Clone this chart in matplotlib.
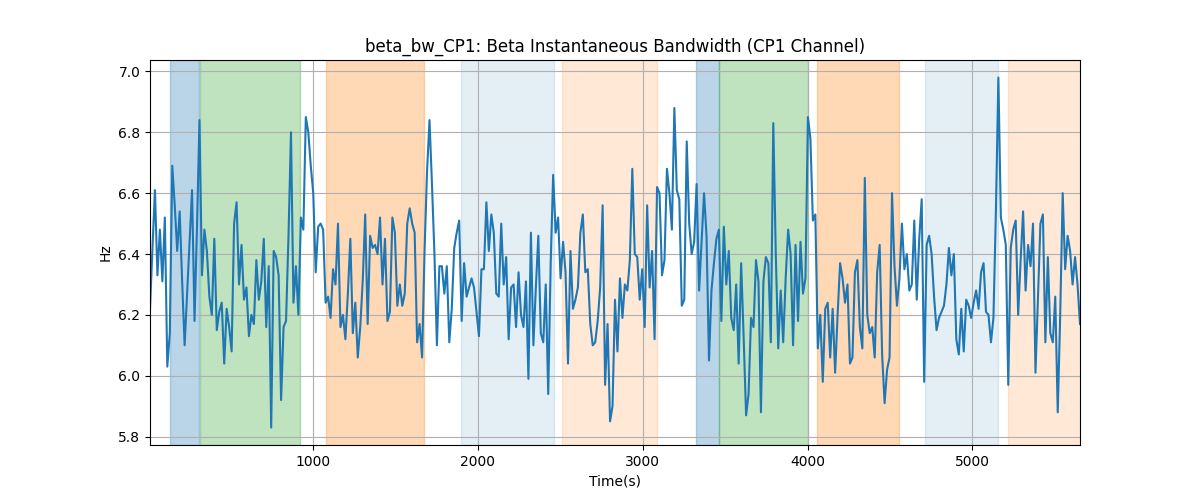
import numpy as np
import matplotlib
matplotlib.use("Agg")
import matplotlib.pyplot as plt

# beta bandwidth CP1 (Hz), one value every 15 s
bw = [
    6.22, 6.42, 6.61, 6.33, 6.48, 6.31, 6.52, 6.03, 6.14, 6.69,
    6.56, 6.41, 6.54, 6.31, 6.10, 6.27, 6.44, 6.61, 6.18, 6.49,
    6.84, 6.33, 6.48, 6.41, 6.26, 6.20, 6.45, 6.15, 6.21, 6.24,
    6.04, 6.22, 6.16, 6.08, 6.50, 6.57, 6.30, 6.43, 6.25, 6.29,
    6.13, 6.20, 6.17, 6.38, 6.25, 6.31, 6.45, 6.16, 6.36, 5.83,
    6.41, 6.39, 6.33, 5.92, 6.16,
    6.18, 6.46, 6.80, 6.24, 6.36, 6.20, 6.52, 6.48, 6.85, 6.80,
    6.69, 6.60, 6.34, 6.49, 6.50, 6.48, 6.24, 6.26, 6.19, 6.35,
    6.30, 6.50, 6.16, 6.20, 6.12, 6.27, 6.45, 6.14, 6.24, 6.06,
    6.16, 6.31, 6.53, 6.17, 6.46, 6.42, 6.43, 6.40, 6.52, 6.30,
    6.45, 6.18, 6.21, 6.52, 6.47, 6.23, 6.30, 6.23, 6.27, 6.50,
    6.55, 6.50, 6.47, 6.11,
    6.17, 6.06, 6.41, 6.67, 6.84, 6.63, 6.40, 6.10, 6.36, 6.36,
    6.27, 6.36, 6.11, 6.22, 6.42, 6.47, 6.51, 6.18, 6.37, 6.26,
    6.29, 6.32, 6.29, 6.21, 6.13, 6.35, 6.35, 6.57, 6.41, 6.53,
    6.47, 6.27, 6.26, 6.50, 6.30, 6.39, 6.12, 6.29, 6.30, 6.16,
    6.34, 6.20, 6.16, 6.31, 5.99, 6.47, 6.10, 6.29, 6.46, 6.14,
    6.11, 6.30, 5.94, 6.37, 6.66, 6.47, 6.52, 6.32, 6.44,
    6.34, 6.04, 6.41, 6.22, 6.25, 6.29, 6.47, 6.53, 6.34, 6.35,
    6.17, 6.10, 6.11, 6.18, 6.29, 6.56, 5.97, 6.17, 5.85, 5.90,
    6.25, 6.08, 6.32, 6.19, 6.30, 6.28, 6.38, 6.68, 6.40, 6.39,
    6.25, 6.35, 6.16, 6.56, 6.29, 6.41, 6.12, 6.62, 6.60, 6.33,
    6.38, 6.68, 6.60, 6.48, 6.88, 6.61, 6.58,
    6.23, 6.25, 6.77, 6.50, 6.40, 6.44, 6.63, 6.28, 6.44, 6.60,
    6.46, 6.05, 6.28, 6.37, 6.45, 6.48, 6.18, 6.49, 6.30, 6.41,
    6.19, 6.15, 6.30, 6.04, 6.37, 6.13, 5.87, 5.94, 6.19, 6.16,
    6.38, 6.31, 5.88, 6.31, 6.39, 6.37, 6.11, 6.83, 6.40, 6.09,
    6.28, 6.11, 6.32, 6.48, 6.40, 6.10, 6.43, 6.18, 6.44, 6.27,
    6.32, 6.85, 6.78,
    6.51, 6.53, 6.09, 6.20, 5.98, 6.22, 6.24, 6.06, 6.22, 6.01,
    6.20, 6.37, 6.32, 6.24, 6.30, 6.04, 6.06, 6.34, 6.38, 6.16,
    6.09, 6.65, 6.20, 6.14, 6.16, 6.06, 6.34, 6.43, 6.07, 5.91,
    6.02, 6.06, 6.60, 6.36, 6.23, 6.32, 6.50, 6.35, 6.40, 6.28,
    6.30, 6.51, 6.25, 6.45, 6.58, 5.98, 6.43, 6.46, 6.40, 6.26,
    6.15, 6.19, 6.21, 6.23,
    6.30, 6.42, 6.33, 6.40, 6.12, 6.07, 6.22, 6.08, 6.25, 6.23,
    6.19, 6.24, 6.28, 6.22, 6.34, 6.37, 6.21, 6.20, 6.11, 6.19,
    6.54, 6.98, 6.52, 6.48, 6.43, 5.97, 6.42, 6.48, 6.51, 6.20,
    6.38, 6.54, 6.28, 6.43, 6.36, 6.50, 6.01, 6.25, 6.50, 6.53,
    6.11, 6.39, 6.14, 6.11, 6.26, 5.88, 6.20, 6.60, 6.35, 6.46,
    6.41, 6.30, 6.39, 6.30, 6.17,
]
t_start = 12
dt = 15
t = t_start + dt * np.arange(len(bw))

# shaded periods (s)
span_start = [132, 314, 1078, 1898, 2512, 3321, 3461, 4060, 4709, 5213]
span_end = [308, 920, 1672, 2462, 3087, 3461, 4001, 4555, 5156, 5660]
span_color = ["C0", "C2", "C1", "C0", "C1", "C0", "C2", "C1", "C0", "C1"]
span_alpha = [0.3, 0.3, 0.3, 0.12, 0.17, 0.3, 0.3, 0.3, 0.12, 0.17]

fig, ax = plt.subplots(figsize=(12, 5), dpi=100)

for a, b, c, al in zip(span_start, span_end, span_color, span_alpha):
    ax.axvspan(a, b, color=c, alpha=al)

ax.plot(t, bw, color="C0", linewidth=1.5)

ax.set_xlim(t[0], t[-1])
ax.set_title("beta_bw_CP1: Beta Instantaneous Bandwidth (CP1 Channel)")
ax.set_xlabel("Time(s)")
ax.set_ylabel("Hz")
ax.grid(True)

fig.savefig("out.png")
